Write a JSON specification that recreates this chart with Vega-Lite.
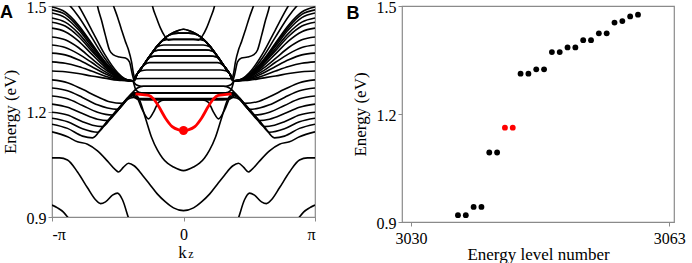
{
"$schema":"https://vega.github.io/schema/vega-lite/v6.json",
"padding":{"left":-1,"top":-2,"right":4,"bottom":0},
"spacing":87,
"bounds":"flush",
"config":{"font":"Liberation Serif","view":{"stroke":"#8a8a8a","strokeWidth":1.2},
 "axis":{"domain":false,"grid":false,"tickSize":4,"tickColor":"#8a8a8a","labelFontSize":16,"titleFontSize":17,"titleFontWeight":"normal","labelColor":"black","titleColor":"black","labelPadding":3}},
"datasets":{
"bands":[
{"c":"Ua","k":-1,"e":1.53},{"c":"Ua","k":-0.9,"e":1.514},{"c":"Ua","k":-0.8,"e":1.471},{"c":"Ua","k":-0.7,"e":1.412},{"c":"Ua","k":-0.6,"e":1.352},{"c":"Ua","k":-0.5,"e":1.306},{"c":"Ua","k":-0.45,"e":1.293},{"c":"Ua","k":-0.388,"e":1.287},{"c":"Ua","k":-0.35,"e":1.308},{"c":"Ua","k":-0.3,"e":1.334},{"c":"Ua","k":-0.25,"e":1.361},{"c":"Ua","k":-0.2,"e":1.386},{"c":"Ua","k":-0.15,"e":1.406},{"c":"Ua","k":-0.1,"e":1.42},{"c":"Ua","k":-0.05,"e":1.429},{"c":"Ua","k":0,"e":1.434},{"c":"Ua","k":0.05,"e":1.429},{"c":"Ua","k":0.1,"e":1.42},{"c":"Ua","k":0.15,"e":1.406},{"c":"Ua","k":0.2,"e":1.386},{"c":"Ua","k":0.25,"e":1.361},{"c":"Ua","k":0.3,"e":1.334},{"c":"Ua","k":0.35,"e":1.308},{"c":"Ua","k":0.388,"e":1.287},{"c":"Ua","k":0.45,"e":1.293},{"c":"Ua","k":0.5,"e":1.306},{"c":"Ua","k":0.6,"e":1.352},{"c":"Ua","k":0.7,"e":1.412},{"c":"Ua","k":0.8,"e":1.471},{"c":"Ua","k":0.9,"e":1.514},{"c":"Ua","k":1,"e":1.53},
{"c":"Ub","k":-1,"e":1.57},{"c":"Ub","k":-0.9,"e":1.552},{"c":"Ub","k":-0.8,"e":1.502},{"c":"Ub","k":-0.7,"e":1.433},{"c":"Ub","k":-0.6,"e":1.363},{"c":"Ub","k":-0.5,"e":1.31},{"c":"Ub","k":-0.45,"e":1.294},{"c":"Ub","k":-0.388,"e":1.287},{"c":"Ub","k":-0.35,"e":1.308},{"c":"Ub","k":-0.3,"e":1.334},{"c":"Ub","k":-0.25,"e":1.361},{"c":"Ub","k":-0.2,"e":1.386},{"c":"Ub","k":-0.15,"e":1.406},{"c":"Ub","k":-0.12,"e":1.415},{"c":"Ub","k":-0.08,"e":1.421},{"c":"Ub","k":-0.04,"e":1.423},{"c":"Ub","k":0,"e":1.423},{"c":"Ub","k":0.04,"e":1.423},{"c":"Ub","k":0.08,"e":1.421},{"c":"Ub","k":0.12,"e":1.415},{"c":"Ub","k":0.15,"e":1.406},{"c":"Ub","k":0.2,"e":1.386},{"c":"Ub","k":0.25,"e":1.361},{"c":"Ub","k":0.3,"e":1.334},{"c":"Ub","k":0.35,"e":1.308},{"c":"Ub","k":0.388,"e":1.287},{"c":"Ub","k":0.45,"e":1.294},{"c":"Ub","k":0.5,"e":1.31},{"c":"Ub","k":0.6,"e":1.363},{"c":"Ub","k":0.7,"e":1.433},{"c":"Ub","k":0.8,"e":1.502},{"c":"Ub","k":0.9,"e":1.552},{"c":"Ub","k":1,"e":1.57},
{"c":"U0","k":-1,"e":1.497},{"c":"U0","k":-0.9,"e":1.483},{"c":"U0","k":-0.8,"e":1.446},{"c":"U0","k":-0.7,"e":1.395},{"c":"U0","k":-0.6,"e":1.343},{"c":"U0","k":-0.5,"e":1.304},{"c":"U0","k":-0.45,"e":1.292},{"c":"U0","k":-0.388,"e":1.287},{"c":"U0","k":-0.35,"e":1.308},{"c":"U0","k":-0.3,"e":1.334},{"c":"U0","k":-0.25,"e":1.361},{"c":"U0","k":-0.2,"e":1.386},{"c":"U0","k":-0.15,"e":1.406},{"c":"U0","k":-0.1,"e":1.42},{"c":"U0","k":-0.05,"e":1.429},{"c":"U0","k":0,"e":1.434},{"c":"U0","k":0.05,"e":1.429},{"c":"U0","k":0.1,"e":1.42},{"c":"U0","k":0.15,"e":1.406},{"c":"U0","k":0.2,"e":1.386},{"c":"U0","k":0.25,"e":1.361},{"c":"U0","k":0.3,"e":1.334},{"c":"U0","k":0.35,"e":1.308},{"c":"U0","k":0.388,"e":1.287},{"c":"U0","k":0.45,"e":1.292},{"c":"U0","k":0.5,"e":1.304},{"c":"U0","k":0.6,"e":1.343},{"c":"U0","k":0.7,"e":1.395},{"c":"U0","k":0.8,"e":1.446},{"c":"U0","k":0.9,"e":1.483},{"c":"U0","k":1,"e":1.497},
{"c":"U1","k":-1,"e":1.489},{"c":"U1","k":-0.9,"e":1.476},{"c":"U1","k":-0.8,"e":1.44},{"c":"U1","k":-0.7,"e":1.391},{"c":"U1","k":-0.6,"e":1.341},{"c":"U1","k":-0.5,"e":1.303},{"c":"U1","k":-0.45,"e":1.292},{"c":"U1","k":-0.388,"e":1.287},{"c":"U1","k":-0.35,"e":1.308},{"c":"U1","k":-0.3,"e":1.334},{"c":"U1","k":-0.25,"e":1.361},{"c":"U1","k":-0.2,"e":1.386},{"c":"U1","k":-0.15,"e":1.406},{"c":"U1","k":-0.12,"e":1.415},{"c":"U1","k":-0.08,"e":1.421},{"c":"U1","k":-0.04,"e":1.423},{"c":"U1","k":0,"e":1.423},{"c":"U1","k":0.04,"e":1.423},{"c":"U1","k":0.08,"e":1.421},{"c":"U1","k":0.12,"e":1.415},{"c":"U1","k":0.15,"e":1.406},{"c":"U1","k":0.2,"e":1.386},{"c":"U1","k":0.25,"e":1.361},{"c":"U1","k":0.3,"e":1.334},{"c":"U1","k":0.35,"e":1.308},{"c":"U1","k":0.388,"e":1.287},{"c":"U1","k":0.45,"e":1.292},{"c":"U1","k":0.5,"e":1.303},{"c":"U1","k":0.6,"e":1.341},{"c":"U1","k":0.7,"e":1.391},{"c":"U1","k":0.8,"e":1.44},{"c":"U1","k":0.9,"e":1.476},{"c":"U1","k":1,"e":1.489},
{"c":"U2","k":-1,"e":1.48},{"c":"U2","k":-0.9,"e":1.467},{"c":"U2","k":-0.8,"e":1.433},{"c":"U2","k":-0.7,"e":1.386},{"c":"U2","k":-0.6,"e":1.339},{"c":"U2","k":-0.5,"e":1.302},{"c":"U2","k":-0.45,"e":1.292},{"c":"U2","k":-0.388,"e":1.287},{"c":"U2","k":-0.35,"e":1.308},{"c":"U2","k":-0.3,"e":1.334},{"c":"U2","k":-0.25,"e":1.361},{"c":"U2","k":-0.2,"e":1.386},{"c":"U2","k":-0.16,"e":1.401},{"c":"U2","k":-0.1,"e":1.405},{"c":"U2","k":0,"e":1.405},{"c":"U2","k":0.1,"e":1.405},{"c":"U2","k":0.16,"e":1.401},{"c":"U2","k":0.2,"e":1.386},{"c":"U2","k":0.25,"e":1.361},{"c":"U2","k":0.3,"e":1.334},{"c":"U2","k":0.35,"e":1.308},{"c":"U2","k":0.388,"e":1.287},{"c":"U2","k":0.45,"e":1.292},{"c":"U2","k":0.5,"e":1.302},{"c":"U2","k":0.6,"e":1.339},{"c":"U2","k":0.7,"e":1.386},{"c":"U2","k":0.8,"e":1.433},{"c":"U2","k":0.9,"e":1.467},{"c":"U2","k":1,"e":1.48},
{"c":"U3","k":-1,"e":1.466},{"c":"U3","k":-0.9,"e":1.454},{"c":"U3","k":-0.8,"e":1.423},{"c":"U3","k":-0.7,"e":1.379},{"c":"U3","k":-0.6,"e":1.335},{"c":"U3","k":-0.5,"e":1.301},{"c":"U3","k":-0.45,"e":1.291},{"c":"U3","k":-0.388,"e":1.287},{"c":"U3","k":-0.35,"e":1.308},{"c":"U3","k":-0.3,"e":1.334},{"c":"U3","k":-0.25,"e":1.361},{"c":"U3","k":-0.2,"e":1.384},{"c":"U3","k":-0.15,"e":1.389},{"c":"U3","k":0,"e":1.389},{"c":"U3","k":0.15,"e":1.389},{"c":"U3","k":0.2,"e":1.384},{"c":"U3","k":0.25,"e":1.361},{"c":"U3","k":0.3,"e":1.334},{"c":"U3","k":0.35,"e":1.308},{"c":"U3","k":0.388,"e":1.287},{"c":"U3","k":0.45,"e":1.291},{"c":"U3","k":0.5,"e":1.301},{"c":"U3","k":0.6,"e":1.335},{"c":"U3","k":0.7,"e":1.379},{"c":"U3","k":0.8,"e":1.423},{"c":"U3","k":0.9,"e":1.454},{"c":"U3","k":1,"e":1.466},
{"c":"U4","k":-1,"e":1.454},{"c":"U4","k":-0.9,"e":1.443},{"c":"U4","k":-0.8,"e":1.414},{"c":"U4","k":-0.7,"e":1.373},{"c":"U4","k":-0.6,"e":1.332},{"c":"U4","k":-0.5,"e":1.3},{"c":"U4","k":-0.45,"e":1.291},{"c":"U4","k":-0.388,"e":1.287},{"c":"U4","k":-0.35,"e":1.308},{"c":"U4","k":-0.3,"e":1.334},{"c":"U4","k":-0.25,"e":1.361},{"c":"U4","k":-0.22,"e":1.372},{"c":"U4","k":-0.17,"e":1.375},{"c":"U4","k":0,"e":1.375},{"c":"U4","k":0.17,"e":1.375},{"c":"U4","k":0.22,"e":1.372},{"c":"U4","k":0.25,"e":1.361},{"c":"U4","k":0.3,"e":1.334},{"c":"U4","k":0.35,"e":1.308},{"c":"U4","k":0.388,"e":1.287},{"c":"U4","k":0.45,"e":1.291},{"c":"U4","k":0.5,"e":1.3},{"c":"U4","k":0.6,"e":1.332},{"c":"U4","k":0.7,"e":1.373},{"c":"U4","k":0.8,"e":1.414},{"c":"U4","k":0.9,"e":1.443},{"c":"U4","k":1,"e":1.454},
{"c":"U5","k":-1,"e":1.437},{"c":"U5","k":-0.9,"e":1.427},{"c":"U5","k":-0.8,"e":1.401},{"c":"U5","k":-0.7,"e":1.364},{"c":"U5","k":-0.6,"e":1.327},{"c":"U5","k":-0.5,"e":1.299},{"c":"U5","k":-0.45,"e":1.291},{"c":"U5","k":-0.388,"e":1.287},{"c":"U5","k":-0.35,"e":1.308},{"c":"U5","k":-0.3,"e":1.334},{"c":"U5","k":-0.25,"e":1.355},{"c":"U5","k":-0.2,"e":1.358},{"c":"U5","k":0,"e":1.358},{"c":"U5","k":0.2,"e":1.358},{"c":"U5","k":0.25,"e":1.355},{"c":"U5","k":0.3,"e":1.334},{"c":"U5","k":0.35,"e":1.308},{"c":"U5","k":0.388,"e":1.287},{"c":"U5","k":0.45,"e":1.291},{"c":"U5","k":0.5,"e":1.299},{"c":"U5","k":0.6,"e":1.327},{"c":"U5","k":0.7,"e":1.364},{"c":"U5","k":0.8,"e":1.401},{"c":"U5","k":0.9,"e":1.427},{"c":"U5","k":1,"e":1.437},
{"c":"U6","k":-1,"e":1.412},{"c":"U6","k":-0.9,"e":1.404},{"c":"U6","k":-0.8,"e":1.382},{"c":"U6","k":-0.7,"e":1.351},{"c":"U6","k":-0.6,"e":1.321},{"c":"U6","k":-0.5,"e":1.297},{"c":"U6","k":-0.45,"e":1.29},{"c":"U6","k":-0.388,"e":1.287},{"c":"U6","k":-0.35,"e":1.308},{"c":"U6","k":-0.3,"e":1.332},{"c":"U6","k":-0.26,"e":1.339},{"c":"U6","k":0,"e":1.339},{"c":"U6","k":0.26,"e":1.339},{"c":"U6","k":0.3,"e":1.332},{"c":"U6","k":0.35,"e":1.308},{"c":"U6","k":0.388,"e":1.287},{"c":"U6","k":0.45,"e":1.29},{"c":"U6","k":0.5,"e":1.297},{"c":"U6","k":0.6,"e":1.321},{"c":"U6","k":0.7,"e":1.351},{"c":"U6","k":0.8,"e":1.382},{"c":"U6","k":0.9,"e":1.404},{"c":"U6","k":1,"e":1.412},
{"c":"U7","k":-1,"e":1.389},{"c":"U7","k":-0.9,"e":1.382},{"c":"U7","k":-0.8,"e":1.364},{"c":"U7","k":-0.7,"e":1.34},{"c":"U7","k":-0.6,"e":1.314},{"c":"U7","k":-0.5,"e":1.295},{"c":"U7","k":-0.45,"e":1.29},{"c":"U7","k":-0.388,"e":1.287},{"c":"U7","k":-0.35,"e":1.308},{"c":"U7","k":-0.32,"e":1.316},{"c":"U7","k":-0.28,"e":1.318},{"c":"U7","k":0,"e":1.318},{"c":"U7","k":0.28,"e":1.318},{"c":"U7","k":0.32,"e":1.316},{"c":"U7","k":0.35,"e":1.308},{"c":"U7","k":0.388,"e":1.287},{"c":"U7","k":0.45,"e":1.29},{"c":"U7","k":0.5,"e":1.295},{"c":"U7","k":0.6,"e":1.314},{"c":"U7","k":0.7,"e":1.34},{"c":"U7","k":0.8,"e":1.364},{"c":"U7","k":0.9,"e":1.382},{"c":"U7","k":1,"e":1.389},
{"c":"U8","k":-1,"e":1.366},{"c":"U8","k":-0.9,"e":1.361},{"c":"U8","k":-0.8,"e":1.347},{"c":"U8","k":-0.7,"e":1.328},{"c":"U8","k":-0.6,"e":1.308},{"c":"U8","k":-0.5,"e":1.293},{"c":"U8","k":-0.45,"e":1.289},{"c":"U8","k":-0.388,"e":1.287},{"c":"U8","k":-0.36,"e":1.293},{"c":"U8","k":-0.32,"e":1.294},{"c":"U8","k":0,"e":1.294},{"c":"U8","k":0.32,"e":1.294},{"c":"U8","k":0.36,"e":1.293},{"c":"U8","k":0.388,"e":1.287},{"c":"U8","k":0.45,"e":1.289},{"c":"U8","k":0.5,"e":1.293},{"c":"U8","k":0.6,"e":1.308},{"c":"U8","k":0.7,"e":1.328},{"c":"U8","k":0.8,"e":1.347},{"c":"U8","k":0.9,"e":1.361},{"c":"U8","k":1,"e":1.366},
{"c":"U9","k":-1,"e":1.341},{"c":"U9","k":-0.9,"e":1.337},{"c":"U9","k":-0.8,"e":1.328},{"c":"U9","k":-0.7,"e":1.315},{"c":"U9","k":-0.6,"e":1.301},{"c":"U9","k":-0.5,"e":1.291},{"c":"U9","k":-0.45,"e":1.288},{"c":"U9","k":-0.388,"e":1.287},{"c":"U9","k":-0.36,"e":1.276},{"c":"U9","k":-0.32,"e":1.272},{"c":"U9","k":0,"e":1.272},{"c":"U9","k":0.32,"e":1.272},{"c":"U9","k":0.36,"e":1.276},{"c":"U9","k":0.388,"e":1.287},{"c":"U9","k":0.45,"e":1.288},{"c":"U9","k":0.5,"e":1.291},{"c":"U9","k":0.6,"e":1.301},{"c":"U9","k":0.7,"e":1.315},{"c":"U9","k":0.8,"e":1.328},{"c":"U9","k":0.9,"e":1.337},{"c":"U9","k":1,"e":1.341},
{"c":"U10","k":-1,"e":1.315},{"c":"U10","k":-0.9,"e":1.313},{"c":"U10","k":-0.8,"e":1.308},{"c":"U10","k":-0.7,"e":1.301},{"c":"U10","k":-0.6,"e":1.295},{"c":"U10","k":-0.5,"e":1.289},{"c":"U10","k":-0.45,"e":1.288},{"c":"U10","k":-0.388,"e":1.287},{"c":"U10","k":-0.36,"e":1.26},{"c":"U10","k":-0.32,"e":1.253},{"c":"U10","k":0,"e":1.253},{"c":"U10","k":0.32,"e":1.253},{"c":"U10","k":0.36,"e":1.26},{"c":"U10","k":0.388,"e":1.287},{"c":"U10","k":0.45,"e":1.288},{"c":"U10","k":0.5,"e":1.289},{"c":"U10","k":0.6,"e":1.295},{"c":"U10","k":0.7,"e":1.301},{"c":"U10","k":0.8,"e":1.308},{"c":"U10","k":0.9,"e":1.313},{"c":"U10","k":1,"e":1.315},
{"c":"R1","k":-1,"e":1.29},{"c":"R1","k":-0.882,"e":1.282},{"c":"R1","k":-0.768,"e":1.263},{"c":"R1","k":-0.654,"e":1.242},{"c":"R1","k":-0.563,"e":1.228},{"c":"R1","k":-0.464,"e":1.223},{"c":"R1","k":-0.426,"e":1.235},{"c":"R1","k":-0.38,"e":1.24},{"c":"R1","k":-0.33,"e":1.237},{"c":"R1","k":0,"e":1.237},{"c":"R1","k":0.33,"e":1.237},{"c":"R1","k":0.38,"e":1.24},{"c":"R1","k":0.426,"e":1.235},{"c":"R1","k":0.464,"e":1.223},{"c":"R1","k":0.563,"e":1.228},{"c":"R1","k":0.654,"e":1.242},{"c":"R1","k":0.768,"e":1.263},{"c":"R1","k":0.882,"e":1.282},{"c":"R1","k":1,"e":1.29},
{"c":"R2","k":-1,"e":1.267},{"c":"R2","k":-0.882,"e":1.259},{"c":"R2","k":-0.768,"e":1.24},{"c":"R2","k":-0.654,"e":1.219},{"c":"R2","k":-0.578,"e":1.21},{"c":"R2","k":-0.502,"e":1.206},{"c":"R2","k":-0.441,"e":1.231},{"c":"R2","k":-0.388,"e":1.244},{"c":"R2","k":-0.35,"e":1.235},{"c":"R2","k":-0.3,"e":1.233},{"c":"R2","k":0,"e":1.233},{"c":"R2","k":0.3,"e":1.233},{"c":"R2","k":0.35,"e":1.235},{"c":"R2","k":0.388,"e":1.244},{"c":"R2","k":0.441,"e":1.231},{"c":"R2","k":0.502,"e":1.206},{"c":"R2","k":0.578,"e":1.21},{"c":"R2","k":0.654,"e":1.219},{"c":"R2","k":0.768,"e":1.24},{"c":"R2","k":0.882,"e":1.259},{"c":"R2","k":1,"e":1.267},
{"c":"R3","k":-1,"e":1.244},{"c":"R3","k":-0.882,"e":1.236},{"c":"R3","k":-0.768,"e":1.217},{"c":"R3","k":-0.654,"e":1.198},{"c":"R3","k":-0.54,"e":1.19},{"c":"R3","k":-0.464,"e":1.22},{"c":"R3","k":-0.395,"e":1.247},{"c":"R3","k":-0.357,"e":1.241},{"c":"R3","k":-0.312,"e":1.204},{"c":"R3","k":-0.266,"e":1.179},{"c":"R3","k":-0.228,"e":1.198},{"c":"R3","k":-0.19,"e":1.226},{"c":"R3","k":-0.144,"e":1.233},{"c":"R3","k":0,"e":1.233},{"c":"R3","k":0.144,"e":1.233},{"c":"R3","k":0.19,"e":1.226},{"c":"R3","k":0.228,"e":1.198},{"c":"R3","k":0.266,"e":1.179},{"c":"R3","k":0.312,"e":1.204},{"c":"R3","k":0.357,"e":1.241},{"c":"R3","k":0.395,"e":1.247},{"c":"R3","k":0.464,"e":1.22},{"c":"R3","k":0.54,"e":1.19},{"c":"R3","k":0.654,"e":1.198},{"c":"R3","k":0.768,"e":1.217},{"c":"R3","k":0.882,"e":1.236},{"c":"R3","k":1,"e":1.244},
{"c":"R4","k":-1,"e":1.221},{"c":"R4","k":-0.882,"e":1.212},{"c":"R4","k":-0.768,"e":1.194},{"c":"R4","k":-0.654,"e":1.178},{"c":"R4","k":-0.578,"e":1.174},{"c":"R4","k":-0.502,"e":1.203},{"c":"R4","k":-0.426,"e":1.235},{"c":"R4","k":-0.38,"e":1.25},{"c":"R4","k":-0.335,"e":1.233},{"c":"R4","k":-0.289,"e":1.181},{"c":"R4","k":-0.243,"e":1.127},{"c":"R4","k":-0.198,"e":1.09},{"c":"R4","k":-0.16,"e":1.068},{"c":"R4","k":-0.122,"e":1.053},{"c":"R4","k":-0.076,"e":1.042},{"c":"R4","k":0,"e":1.032},{"c":"R4","k":0.076,"e":1.042},{"c":"R4","k":0.122,"e":1.053},{"c":"R4","k":0.16,"e":1.068},{"c":"R4","k":0.198,"e":1.09},{"c":"R4","k":0.243,"e":1.127},{"c":"R4","k":0.289,"e":1.181},{"c":"R4","k":0.335,"e":1.233},{"c":"R4","k":0.38,"e":1.25},{"c":"R4","k":0.426,"e":1.235},{"c":"R4","k":0.502,"e":1.203},{"c":"R4","k":0.578,"e":1.174},{"c":"R4","k":0.654,"e":1.178},{"c":"R4","k":0.768,"e":1.194},{"c":"R4","k":0.882,"e":1.212},{"c":"R4","k":1,"e":1.221},
{"c":"R5","k":-1,"e":1.198},{"c":"R5","k":-0.882,"e":1.19},{"c":"R5","k":-0.768,"e":1.171},{"c":"R5","k":-0.692,"e":1.161},{"c":"R5","k":-0.616,"e":1.157},{"c":"R5","k":-0.54,"e":1.187},{"c":"R5","k":-0.464,"e":1.218},{"c":"R5","k":-0.395,"e":1.247},{"c":"R5","k":-0.35,"e":1.252},{"c":"R5","k":0,"e":1.253},{"c":"R5","k":0.35,"e":1.252},{"c":"R5","k":0.395,"e":1.247},{"c":"R5","k":0.464,"e":1.218},{"c":"R5","k":0.54,"e":1.187},{"c":"R5","k":0.616,"e":1.157},{"c":"R5","k":0.692,"e":1.161},{"c":"R5","k":0.768,"e":1.171},{"c":"R5","k":0.882,"e":1.19},{"c":"R5","k":1,"e":1.198},
{"c":"R6","k":-1,"e":1.181},{"c":"R6","k":-0.882,"e":1.171},{"c":"R6","k":-0.768,"e":1.151},{"c":"R6","k":-0.654,"e":1.141},{"c":"R6","k":-0.578,"e":1.173},{"c":"R6","k":-0.502,"e":1.206},{"c":"R6","k":-0.426,"e":1.238},{"c":"R6","k":-0.38,"e":1.253},{"c":"R6","k":0,"e":1.253},{"c":"R6","k":0.38,"e":1.253},{"c":"R6","k":0.426,"e":1.238},{"c":"R6","k":0.502,"e":1.206},{"c":"R6","k":0.578,"e":1.173},{"c":"R6","k":0.654,"e":1.141},{"c":"R6","k":0.768,"e":1.151},{"c":"R6","k":0.882,"e":1.171},{"c":"R6","k":1,"e":1.181},
{"c":"R7","k":-1,"e":1.164},{"c":"R7","k":-0.882,"e":1.152},{"c":"R7","k":-0.768,"e":1.13},{"c":"R7","k":-0.692,"e":1.125},{"c":"R7","k":-0.616,"e":1.156},{"c":"R7","k":-0.54,"e":1.189},{"c":"R7","k":-0.464,"e":1.221},{"c":"R7","k":-0.388,"e":1.254},{"c":"R7","k":-0.35,"e":1.267},{"c":"R7","k":-0.304,"e":1.272},{"c":"R7","k":0,"e":1.272},{"c":"R7","k":0.304,"e":1.272},{"c":"R7","k":0.35,"e":1.267},{"c":"R7","k":0.388,"e":1.254},{"c":"R7","k":0.464,"e":1.221},{"c":"R7","k":0.54,"e":1.189},{"c":"R7","k":0.616,"e":1.156},{"c":"R7","k":0.692,"e":1.125},{"c":"R7","k":0.768,"e":1.13},{"c":"R7","k":0.882,"e":1.152},{"c":"R7","k":1,"e":1.164},
{"c":"FU","k":-1,"e":1.142},{"c":"FU","k":-0.882,"e":1.128},{"c":"FU","k":-0.806,"e":1.114},{"c":"FU","k":-0.73,"e":1.107},{"c":"FU","k":-0.654,"e":1.088},{"c":"FU","k":-0.578,"e":1.059},{"c":"FU","k":-0.517,"e":1.034},{"c":"FU","k":-0.494,"e":1.028},{"c":"FU","k":-0.456,"e":1.042},{"c":"FU","k":-0.418,"e":1.053},{"c":"FU","k":-0.373,"e":1.045},{"c":"FU","k":-0.312,"e":1.019},{"c":"FU","k":-0.259,"e":0.994},{"c":"FU","k":-0.198,"e":0.965},{"c":"FU","k":-0.137,"e":0.943},{"c":"FU","k":-0.076,"e":0.926},{"c":"FU","k":0,"e":0.918},{"c":"FU","k":0.076,"e":0.926},{"c":"FU","k":0.137,"e":0.943},{"c":"FU","k":0.198,"e":0.965},{"c":"FU","k":0.259,"e":0.994},{"c":"FU","k":0.312,"e":1.019},{"c":"FU","k":0.373,"e":1.045},{"c":"FU","k":0.418,"e":1.053},{"c":"FU","k":0.456,"e":1.042},{"c":"FU","k":0.494,"e":1.028},{"c":"FU","k":0.517,"e":1.034},{"c":"FU","k":0.578,"e":1.059},{"c":"FU","k":0.654,"e":1.088},{"c":"FU","k":0.73,"e":1.107},{"c":"FU","k":0.806,"e":1.114},{"c":"FU","k":0.882,"e":1.128},{"c":"FU","k":1,"e":1.142},
{"c":"L1","k":-1,"e":1.068},{"c":"L1","k":-0.943,"e":1.068},{"c":"L1","k":-0.882,"e":1.062},{"c":"L1","k":-0.806,"e":1.028},{"c":"L1","k":-0.73,"e":0.983},{"c":"L1","k":-0.669,"e":0.949},{"c":"L1","k":-0.631,"e":0.938},{"c":"L1","k":-0.593,"e":0.943},{"c":"L1","k":-0.54,"e":0.962},{"c":"L1","k":-0.502,"e":0.968},{"c":"L1","k":-0.464,"e":0.949},{"c":"L1","k":-0.418,"e":0.897},{"c":"L1","k":-0.38,"e":0.857},
{"c":"L1r","k":0.38,"e":0.857},{"c":"L1r","k":0.418,"e":0.897},{"c":"L1r","k":0.464,"e":0.949},{"c":"L1r","k":0.502,"e":0.968},{"c":"L1r","k":0.54,"e":0.962},{"c":"L1r","k":0.593,"e":0.943},{"c":"L1r","k":0.631,"e":0.938},{"c":"L1r","k":0.669,"e":0.949},{"c":"L1r","k":0.73,"e":0.983},{"c":"L1r","k":0.806,"e":1.028},{"c":"L1r","k":0.882,"e":1.062},{"c":"L1r","k":0.943,"e":1.068},{"c":"L1r","k":1,"e":1.068},
{"c":"LL","k":-1,"e":0.934},{"c":"LL","k":-0.958,"e":0.926},{"c":"LL","k":-0.913,"e":0.914},{"c":"LL","k":-0.875,"e":0.897},{"c":"LL","k":-0.8,"e":0.86},
{"c":"LLr","k":0.8,"e":0.86},{"c":"LLr","k":0.875,"e":0.897},{"c":"LLr","k":0.913,"e":0.914},{"c":"LLr","k":0.958,"e":0.926},{"c":"LLr","k":1,"e":0.934},
{"c":"S1","k":-0.669,"e":1.53},{"c":"S1","k":-0.654,"e":1.5},{"c":"S1","k":-0.624,"e":1.46},{"c":"S1","k":-0.593,"e":1.415},{"c":"S1","k":-0.563,"e":1.375},{"c":"S1","k":-0.532,"e":1.361},{"c":"S1","k":-0.487,"e":1.355},{"c":"S1","k":-0.441,"e":1.352},{"c":"S1","k":-0.411,"e":1.341},{"c":"S1","k":-0.388,"e":1.304},{"c":"S1","k":-0.373,"e":1.287},{"c":"S1","k":-0.35,"e":1.308},{"c":"S1","k":-0.3,"e":1.334},{"c":"S1","k":-0.25,"e":1.361},{"c":"S1","k":-0.22,"e":1.372},{"c":"S1","k":-0.17,"e":1.375},{"c":"S1","k":0,"e":1.375},{"c":"S1","k":0.17,"e":1.375},{"c":"S1","k":0.22,"e":1.372},{"c":"S1","k":0.25,"e":1.361},{"c":"S1","k":0.3,"e":1.334},{"c":"S1","k":0.35,"e":1.308},{"c":"S1","k":0.373,"e":1.287},{"c":"S1","k":0.388,"e":1.304},{"c":"S1","k":0.411,"e":1.341},{"c":"S1","k":0.441,"e":1.352},{"c":"S1","k":0.487,"e":1.355},{"c":"S1","k":0.532,"e":1.361},{"c":"S1","k":0.563,"e":1.375},{"c":"S1","k":0.593,"e":1.415},{"c":"S1","k":0.624,"e":1.46},{"c":"S1","k":0.654,"e":1.5},{"c":"S1","k":0.669,"e":1.53},
{"c":"S2","k":-0.555,"e":1.526},{"c":"S2","k":-0.532,"e":1.5},{"c":"S2","k":-0.502,"e":1.469},{"c":"S2","k":-0.471,"e":1.432},{"c":"S2","k":-0.441,"e":1.398},{"c":"S2","k":-0.418,"e":1.375},{"c":"S2","k":-0.395,"e":1.341},{"c":"S2","k":-0.38,"e":1.307},{"c":"S2","k":-0.37,"e":1.295},{"c":"S2","k":-0.35,"e":1.308},{"c":"S2","k":-0.3,"e":1.334},{"c":"S2","k":-0.26,"e":1.355},{"c":"S2","k":-0.2,"e":1.358},{"c":"S2","k":0,"e":1.358},{"c":"S2","k":0.2,"e":1.358},{"c":"S2","k":0.26,"e":1.355},{"c":"S2","k":0.3,"e":1.334},{"c":"S2","k":0.35,"e":1.308},{"c":"S2","k":0.37,"e":1.295},{"c":"S2","k":0.38,"e":1.307},{"c":"S2","k":0.395,"e":1.341},{"c":"S2","k":0.418,"e":1.375},{"c":"S2","k":0.441,"e":1.398},{"c":"S2","k":0.471,"e":1.432},{"c":"S2","k":0.502,"e":1.469},{"c":"S2","k":0.532,"e":1.5},{"c":"S2","k":0.555,"e":1.526},
{"c":"S3","k":-0.25,"e":1.526},{"c":"S3","k":-0.236,"e":1.5},{"c":"S3","k":-0.205,"e":1.466},{"c":"S3","k":-0.175,"e":1.437},{"c":"S3","k":-0.144,"e":1.415},{"c":"S3","k":-0.114,"e":1.403},{"c":"S3","k":-0.076,"e":1.405},{"c":"S3","k":0,"e":1.405},{"c":"S3","k":0.076,"e":1.405},{"c":"S3","k":0.114,"e":1.403},{"c":"S3","k":0.144,"e":1.415},{"c":"S3","k":0.175,"e":1.437},{"c":"S3","k":0.205,"e":1.466},{"c":"S3","k":0.236,"e":1.5},{"c":"S3","k":0.25,"e":1.526}
],
"red":[
{"k":-0.365,"e":1.25},{"k":-0.312,"e":1.248},{"k":-0.264,"e":1.246},{"k":-0.228,"e":1.236},{"k":-0.188,"e":1.214},{"k":-0.137,"e":1.181},{"k":-0.086,"e":1.157},{"k":-0.036,"e":1.148},{"k":0,"e":1.146},{"k":0.036,"e":1.148},{"k":0.086,"e":1.157},{"k":0.137,"e":1.181},{"k":0.188,"e":1.214},{"k":0.228,"e":1.236},{"k":0.264,"e":1.246},{"k":0.312,"e":1.248},{"k":0.365,"e":1.25}
],
"levels":[
{"n":3036,"e":0.919,"s":"k"},{"n":3037,"e":0.919,"s":"k"},{"n":3038,"e":0.942,"s":"k"},{"n":3039,"e":0.942,"s":"k"},{"n":3040,"e":1.093,"s":"k"},{"n":3041,"e":1.093,"s":"k"},{"n":3042,"e":1.162,"s":"r"},{"n":3043,"e":1.162,"s":"r"},{"n":3044,"e":1.312,"s":"k"},{"n":3045,"e":1.312,"s":"k"},{"n":3046,"e":1.324,"s":"k"},{"n":3047,"e":1.324,"s":"k"},{"n":3048,"e":1.372,"s":"k"},{"n":3049,"e":1.372,"s":"k"},{"n":3050,"e":1.385,"s":"k"},{"n":3051,"e":1.385,"s":"k"},{"n":3052,"e":1.405,"s":"k"},{"n":3053,"e":1.405,"s":"k"},{"n":3054,"e":1.424,"s":"k"},{"n":3055,"e":1.424,"s":"k"},{"n":3056,"e":1.454,"s":"k"},{"n":3057,"e":1.458,"s":"k"},{"n":3058,"e":1.471,"s":"k"},{"n":3059,"e":1.476,"s":"k"}
]
},
"hconcat":[
{
"width":263,"height":211,
"encoding":{
 "x":{"field":"k","type":"quantitative","scale":{"domain":[-1,1],"nice":false,"zero":false},
  "axis":{"values":[-1,0,1],"labelExpr":"datum.value < -0.5 ? '-π' : (datum.value > 0.5 ? 'π' : '0')","title":"k","titleX":130,"labelPadding":5,"titlePadding":2}},
 "y":{"field":"e","type":"quantitative","scale":{"domain":[0.9,1.5],"nice":false,"zero":false},
  "axis":{"values":[0.9,1.2,1.5],"format":".1f","title":"Energy (eV)","titlePadding":7,"labelPadding":2,"labelOffset":1}}
},
"layer":[
 {"data":{"name":"bands"},"mark":{"type":"line","clip":true,"interpolate":"monotone","strokeWidth":1.6,"color":"black"},"encoding":{"detail":{"field":"c"}}},
 {"data":{"name":"red"},"mark":{"type":"line","clip":true,"interpolate":"monotone","strokeWidth":2.8,"color":"#ff0000"}},
 {"data":{"values":[{"k":0,"e":1.146}]},"mark":{"type":"circle","size":80,"opacity":1,"color":"#ff0000"}},
 {"data":{"values":[{"k":0.057,"e":0.782,"t":"z"}]},"mark":{"type":"text","fontSize":12,"align":"center","baseline":"alphabetic","font":"Liberation Serif"},"encoding":{"text":{"field":"t"}}},
 {"data":{"values":[{"k":-1.346,"e":1.466,"t":"A"}]},"mark":{"type":"text","fontSize":18,"fontWeight":"bold","align":"center","baseline":"alphabetic","font":"Liberation Sans"},"encoding":{"text":{"field":"t"}}}
]
},
{
"width":272,"height":216,
"encoding":{
 "x":{"field":"n","type":"quantitative","scale":{"domain":[3028.85,3063.6],"nice":false,"zero":false},
  "axis":{"values":[3030,3063],"format":"d","title":"Energy level number","labelPadding":4,"titlePadding":0}},
 "y":{"field":"e","type":"quantitative","scale":{"domain":[0.9,1.5],"nice":false,"zero":false},
  "axis":{"values":[0.9,1.2,1.5],"format":".1f","title":"Energy (eV)","titlePadding":7,"labelPadding":2,"labelOffset":1}}
},
"layer":[
 {"data":{"name":"levels"},"mark":{"type":"circle","size":34,"opacity":1},
  "encoding":{"color":{"field":"s","type":"nominal","scale":{"domain":["k","r"],"range":["black","#ff0000"]},"legend":null}}},
 {"data":{"values":[{"n":3022.6,"e":1.464,"t":"B"}]},"mark":{"type":"text","fontSize":18,"fontWeight":"bold","align":"center","baseline":"alphabetic","font":"Liberation Sans"},"encoding":{"text":{"field":"t"}}}
]
}
]
}
